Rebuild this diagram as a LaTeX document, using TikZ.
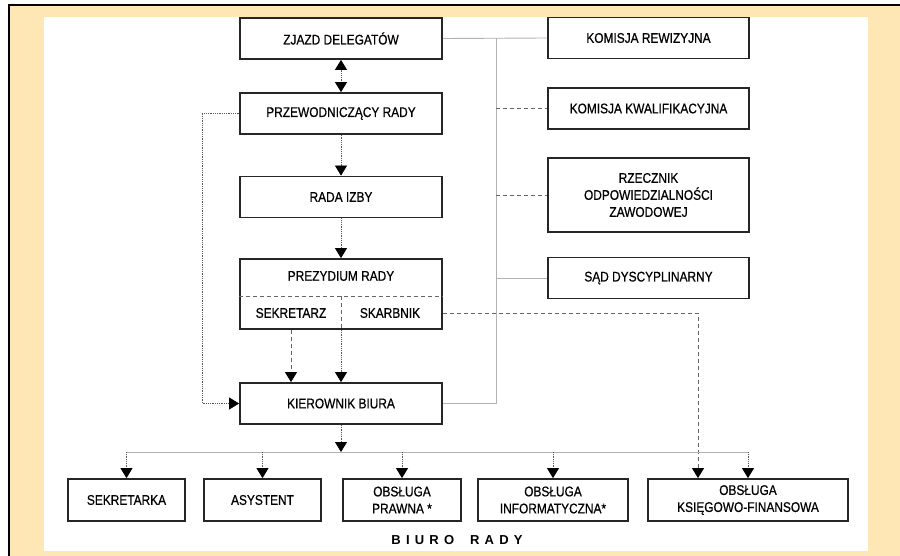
\documentclass[tikz,border=0pt]{standalone}
\usepackage{fontspec}
\setmainfont{Liberation Sans}[FakeStretch=0.85, FakeBold=0.6]
\newfontfamily\capfont{Liberation Sans}[LetterSpace=40]
\usetikzlibrary{arrows.meta}
\definecolor{cream}{RGB}{254,231,180}
\tikzset{>={Triangle[width=12pt,length=10pt,black]},
         box/.style = {draw=black!85, line width=1.8pt, fill=white, align=center,
                       inner sep=0pt, minimum height=41pt,
                       font=\fontsize{14}{17}\selectfont},
         solidlink/.style = {draw=black!30, line width=0.9pt},
         dotlink/.style = {draw=black!65, line width=0.8pt, densely dotted},
         dashlink/.style = {draw=black!60, line width=0.8pt, dash pattern=on 4pt off 3pt}}

\begin{document}
\begin{tikzpicture}[x=1pt, y=-1pt]
    \useasboundingbox (0, 0) rectangle (900, 556);
    \fill [cream] (9, 5) rectangle (900, 556);
    \draw [line width=1.2pt] (9, 556) -- (9, 5) -- (900, 5);
    \fill [white] (44, 17) rectangle (868, 551);

    \node [box, minimum width=202pt] (zjazd) at (341, 38.5) {ZJAZD DELEGATÓW};
    \node [box, minimum width=202pt] (przew) at (341, 113.5) {PRZEWODNICZĄCY RADY};
    \node [box, minimum width=202pt] (rada) at (341, 197) {RADA IZBY};
    \node [box, minimum width=202pt, minimum height=70pt] (prezydium) at (341, 294) {};
    \node [font=\fontsize{14}{17}\selectfont] (preztitle) at (341, 276) {PREZYDIUM RADY};
    \node [font=\fontsize{14}{17}\selectfont] (sekretarz) at (291, 313) {SEKRETARZ};
    \node [font=\fontsize{14}{17}\selectfont] (skarbnik) at (390, 313) {SKARBNIK};
    \node [box, minimum width=202pt] (kierownik) at (341, 403.5) {KIEROWNIK BIURA};

    \node [box, minimum width=201pt] (komrew) at (648.5, 38) {KOMISJA REWIZYJNA};
    \node [box, minimum width=201pt] (komkw) at (648.5, 108.5) {KOMISJA KWALIFIKACYJNA};
    \node [box, minimum width=201pt, minimum height=74pt] (rzecznik) at (648.5, 195)
          {RZECZNIK\\ODPOWIEDZIALNOŚCI\\ZAWODOWEJ};
    \node [box, minimum width=201pt] (sad) at (648.5, 278) {SĄD DYSCYPLINARNY};

    \node [box, minimum width=117pt, minimum height=42pt] (sekretarka) at (126.5, 500) {SEKRETARKA};
    \node [box, minimum width=117pt, minimum height=42pt] (asystent) at (262.5, 500) {ASYSTENT};
    \node [box, minimum width=118pt, minimum height=42pt] (prawna) at (402, 500) {OBSŁUGA\\PRAWNA *};
    \node [box, minimum width=150pt, minimum height=42pt] (informatyczna) at (553, 500) {OBSŁUGA\\INFORMATYCZNA*};
    \node [box, minimum width=200pt, minimum height=42pt] (ksiegowa) at (748, 500) {OBSŁUGA\\KSIĘGOWO-FINANSOWA};

    \node [font={\fontsize{13}{15}\capfont\bfseries}] (biuro) at (457, 540) {BIURO\hspace{16pt}RADY};

    \coordinate (lbus) at (202, 0);
    \coordinate (rbus) at (496, 0);
    \coordinate (bbus) at (0, 452);
    \coordinate (kdrop) at (698, 0);

    \draw [dashlink] ([yshift=-2pt]prezydium.west) -- ([yshift=-2pt]prezydium.east);
    \draw [dashlink] ([yshift=-2pt]prezydium.center) -- (prezydium.south);

    \draw [dotlink, <->] (zjazd) -- (przew);
    \draw [dotlink, ->] (przew) -- (rada);
    \draw [dotlink, ->] (rada) -- (prezydium);
    \draw [dotlink, ->] (prezydium.south) -- (kierownik.north);
    \draw [dashlink, ->] (sekretarz |- prezydium.south) -- (sekretarz |- kierownik.north);
    \draw [dotlink, ->] (przew.west) -- (przew.west -| lbus) -- (kierownik.west -| lbus) -- (kierownik.west);

    \draw [solidlink] (zjazd.east) -- (komrew.west);
    \draw [solidlink] (rbus |- zjazd.east) -- (rbus |- kierownik.east) -- (kierownik.east);
    \foreach \n in {komkw, rzecznik} {
      \draw [dashlink] (rbus |- \n.west) -- (\n.west);
    }
    \draw [solidlink] (rbus |- sad.west) -- (sad.west);

    \draw [dashlink, ->] (prezydium.east |- skarbnik) -- (kdrop |- skarbnik) -- (kdrop |- ksiegowa.north);

    \draw [dotlink, ->] (kierownik.south) -- (kierownik.south |- bbus);
    \draw [solidlink] (sekretarka.north |- bbus) -- (ksiegowa.north |- bbus);
    \foreach \n in {sekretarka, asystent, prawna, informatyczna, ksiegowa} {
      \draw [dotlink, ->] (\n.north |- bbus) -- (\n.north);
    }
\end{tikzpicture}
\end{document}
